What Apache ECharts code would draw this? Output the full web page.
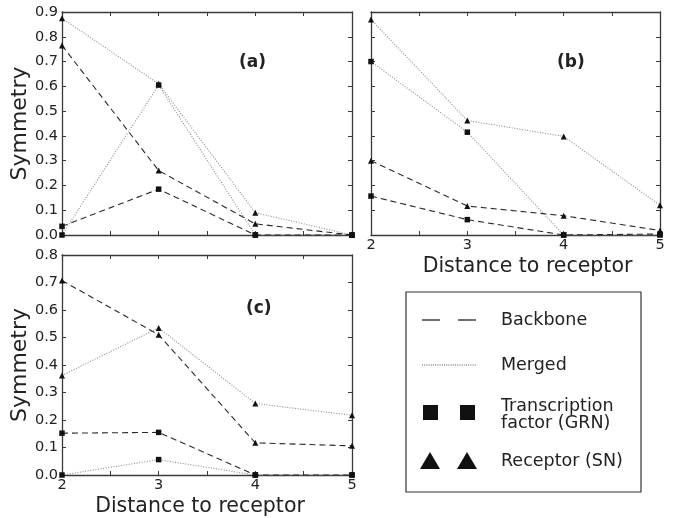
<!DOCTYPE html>
<html>
<head>
<meta charset="utf-8">
<script src="https://cdn.jsdelivr.net/npm/echarts@6/dist/echarts.min.js"></script>
<style>html,body{margin:0;padding:0;background:#fff;}#c{width:673px;height:518px;}</style>
</head>
<body>
<div id="c"></div>
<script>
// x positions (distance to receptor)
const distances = [2, 3, 4, 5];
// Panel (a)
const aBackboneTF  = [0.035, 0.185, 0.0, 0.0];
const aBackboneRec = [0.765, 0.26, 0.045, 0.0];
const aMergedTF    = [0.0, 0.605, 0.0, 0.0];
const aMergedRec   = [0.875, 0.61, 0.09, 0.0];
// Panel (b)
const bBackboneTF  = [0.157, 0.062, 0.0, 0.004];
const bBackboneRec = [0.30, 0.117, 0.078, 0.018];
const bMergedTF    = [0.70, 0.415, 0.0, 0.0];
const bMergedRec   = [0.87, 0.462, 0.398, 0.12];
// Panel (c)
const cBackboneTF  = [0.152, 0.155, 0.0, 0.0];
const cBackboneRec = [0.707, 0.51, 0.117, 0.106];
const cMergedTF    = [0.0, 0.056, 0.0, 0.0];
const cMergedRec   = [0.362, 0.535, 0.26, 0.217];
// Axis ranges / labels
const yMaxAB = 0.9, yMaxC = 0.8, yStep = 0.1;
const xMin = 2, xMax = 5, xStep = 0.5;
const panelLabels = ['(a)', '(b)', '(c)'];
const legendLabels = ['Backbone', 'Merged', 'Transcription\nfactor (GRN)', 'Receptor (SN)'];
const yName = 'Symmetry';
const xName = 'Distance to receptor';

const FONT = 'DejaVu Sans';
const AX = '#3a3a3a';
const TXT = '#222';

const grids = [
  {left: 62, top: 12, width: 290, height: 223},
  {left: 371, top: 12, width: 289, height: 223},
  {left: 62, top: 255, width: 290, height: 222}
];

function zip(ys) { return distances.map((x, i) => [x, ys[i]]); }

const xAxes = [], yAxes = [], series = [];
const panelData = [
  [aBackboneTF, aBackboneRec, aMergedTF, aMergedRec],
  [bBackboneTF, bBackboneRec, bMergedTF, bMergedRec],
  [cBackboneTF, cBackboneRec, cMergedTF, cMergedRec]
];
const showX = [false, true, true];
const showY = [true, false, true];
const yMaxes = [yMaxAB, yMaxAB, yMaxC];
const xNamePad = [[0,0,0,0],[0,0,0,24],[0,14,0,0]];

grids.forEach((g, gi) => {
  const base = {
    type: 'value', gridIndex: gi, min: xMin, max: xMax, interval: xStep,
    splitLine: {show: false},
    axisLine: {show: true, onZero: false, lineStyle: {color: AX, width: 1.3}},
    axisTick: {show: true, inside: true, length: 4, lineStyle: {color: AX, width: 1}}
  };
  xAxes.push(Object.assign({}, base, {
    position: 'bottom',
    axisLabel: {show: showX[gi], margin: 3, fontFamily: FONT, fontSize: 14.5, color: TXT,
      formatter: v => Number.isInteger(v) ? String(v) : ''},
    name: showX[gi] ? xName : '', nameLocation: 'middle', nameGap: 21,
    nameTextStyle: {fontFamily: FONT, fontSize: 20.5, color: TXT, verticalAlign: 'top', padding: xNamePad[gi]}
  }));
  xAxes.push(Object.assign({}, base, {position: 'top', axisLabel: {show: false}}));
  const ybase = {
    type: 'value', gridIndex: gi, min: 0, max: yMaxes[gi], interval: yStep,
    splitLine: {show: false},
    axisLine: {show: true, onZero: false, lineStyle: {color: AX, width: 1.3}},
    axisTick: {show: true, inside: true, length: 4, lineStyle: {color: AX, width: 1}}
  };
  yAxes.push(Object.assign({}, ybase, {
    position: 'left',
    axisLabel: {show: showY[gi], margin: 4, fontFamily: FONT, fontSize: 14.5, color: TXT,
      formatter: v => v.toFixed(1)},
    name: showY[gi] ? yName : '', nameLocation: 'middle', nameGap: 28, nameRotate: 90,
    nameTextStyle: {fontFamily: FONT, fontSize: 22, color: TXT}
  }));
  yAxes.push(Object.assign({}, ybase, {position: 'right', axisLabel: {show: false}}));

  const [bTF, bRec, mTF, mRec] = panelData[gi];
  const dashed = {color: '#2a2a2a', width: 1.1, type: [6, 4]};
  const dotted = {color: '#8a8a8a', width: 1.1, type: [1, 1.6]};
  const mk = (data, ls, sym, size, name) => ({
    type: 'line', name, xAxisIndex: gi * 2, yAxisIndex: gi * 2, data: zip(data),
    lineStyle: ls, symbol: sym, symbolSize: size, showSymbol: true,
    itemStyle: {color: '#111', borderWidth: 0}, animation: false, clip: false, z: 3
  });
  series.push(mk(mTF, dotted, 'rect', 5.5, 'mTF'));
  series.push(mk(mRec, dotted, 'triangle', 6, 'mRec'));
  series.push(mk(bTF, dashed, 'rect', 5.5, 'bTF'));
  series.push(mk(bRec, dashed, 'triangle', 6, 'bRec'));
});

// Legend box drawn with graphics
const LX = 406, LY = 292;
const graphic = [
  {type: 'text', left: 239, top: 54, style: {text: panelLabels[0], font: 'bold 17px "DejaVu Sans"', fill: TXT}},
  {type: 'text', left: 557, top: 54, style: {text: panelLabels[1], font: 'bold 17px "DejaVu Sans"', fill: TXT}},
  {type: 'text', left: 246, top: 300, style: {text: panelLabels[2], font: 'bold 17px "DejaVu Sans"', fill: TXT}},
  {type: 'rect', shape: {x: LX, y: LY, width: 235, height: 200}, style: {fill: '#fff', stroke: '#333', lineWidth: 1.2}},
  {type: 'line', shape: {x1: 422, y1: 320, x2: 440, y2: 320}, style: {stroke: '#222', lineWidth: 1.3}},
  {type: 'line', shape: {x1: 458, y1: 320, x2: 476, y2: 320}, style: {stroke: '#222', lineWidth: 1.3}},
  {type: 'line', shape: {x1: 422, y1: 365, x2: 476, y2: 365}, style: {stroke: '#555', lineWidth: 1, lineDash: [1, 1.2]}},
  {type: 'rect', shape: {x: 423, y: 405, width: 15, height: 15}, style: {fill: '#111'}},
  {type: 'rect', shape: {x: 460, y: 405, width: 15, height: 15}, style: {fill: '#111'}},
  {type: 'polygon', shape: {points: [[420, 469], [440, 469], [430, 452]]}, style: {fill: '#111'}},
  {type: 'polygon', shape: {points: [[457, 469], [477, 469], [467, 452]]}, style: {fill: '#111'}},
  {type: 'text', left: 501, top: 311, style: {text: legendLabels[0], font: '17.5px "DejaVu Sans"', fill: TXT}},
  {type: 'text', left: 501, top: 356, style: {text: legendLabels[1], font: '17.5px "DejaVu Sans"', fill: TXT}},
  {type: 'text', left: 501, top: 397, style: {text: legendLabels[2], font: '17.5px "DejaVu Sans"', fill: TXT, lineHeight: 17}},
  {type: 'text', left: 501, top: 452, style: {text: legendLabels[3], font: '17.5px "DejaVu Sans"', fill: TXT}}
];

const chart = echarts.init(document.getElementById('c'), null, {renderer: 'canvas'});
chart.setOption({
  animation: false,
  backgroundColor: '#fff',
  grid: grids.map(g => Object.assign({containLabel: false}, g)),
  xAxis: xAxes,
  yAxis: yAxes,
  series: series,
  graphic: graphic
});
</script>
</body>
</html>
